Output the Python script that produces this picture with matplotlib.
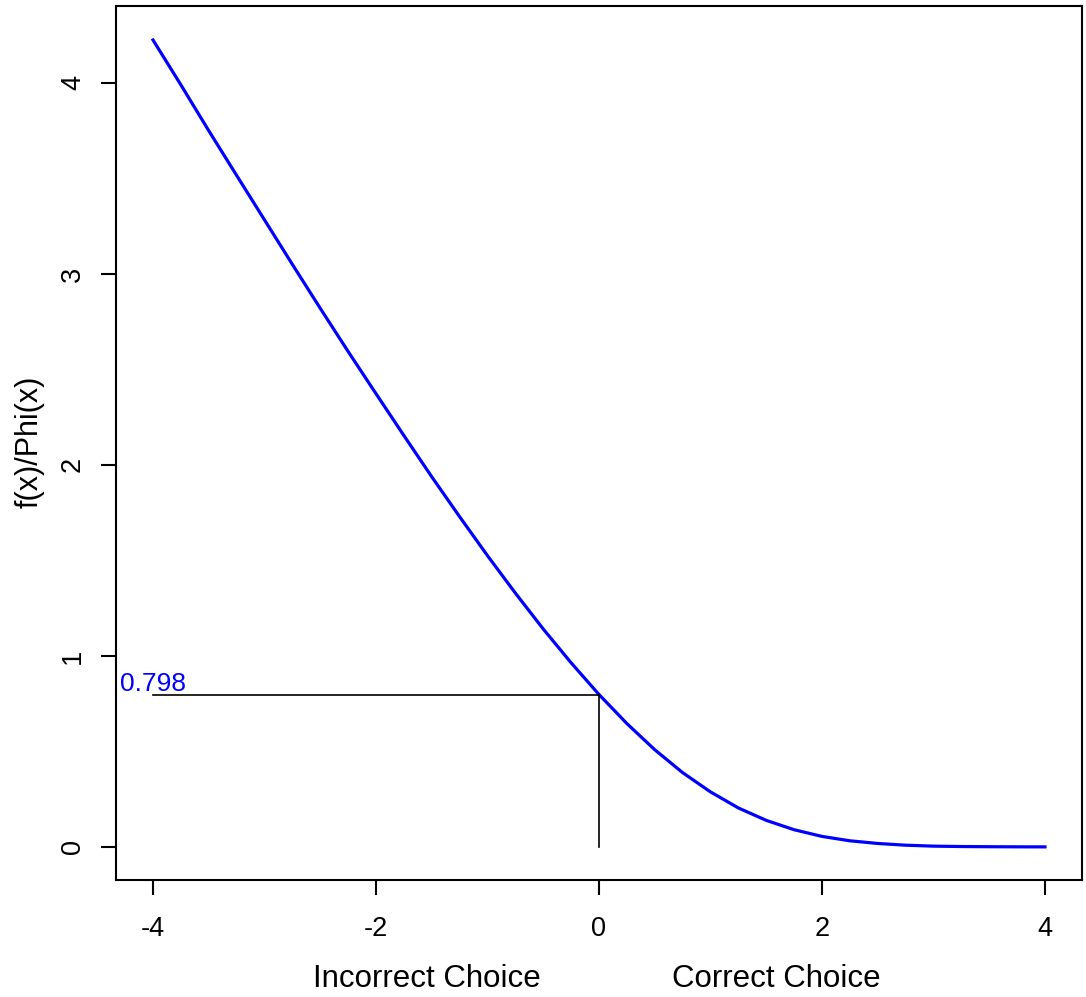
import matplotlib
matplotlib.use("Agg")
import matplotlib.pyplot as plt

plt.rcParams['font.family'] = ['Liberation Sans', 'DejaVu Sans']

x_vals = [-4.0, -3.75, -3.5, -3.25, -3.0, -2.75, -2.5, -2.25, -2.0, -1.75, -1.5,
          -1.25, -1.0, -0.75, -0.5, -0.25, 0.0, 0.25, 0.5, 0.75, 1.0, 1.25, 1.5,
          1.75, 2.0, 2.25, 2.5, 2.75, 3.0, 3.25, 3.5, 3.75, 4.0]
y_vals = [4.225, 3.99, 3.75, 3.516, 3.283, 3.05, 2.82, 2.594, 2.373, 2.154, 1.938,
          1.729, 1.525, 1.329, 1.141, 0.964, 0.798, 0.646, 0.509, 0.389, 0.288,
          0.204, 0.139, 0.090, 0.055, 0.032, 0.018, 0.009, 0.004, 0.002, 0.001,
          0.0004, 0.0001]
ref_x = 0.0
ref_y = 0.798
ref_label = "0.798"
x_ticks = [-4, -2, 0, 2, 4]
y_ticks = [0, 1, 2, 3, 4]

fig = plt.figure(figsize=(10.86, 9.97), dpi=100)
ax = fig.add_axes([0.1068, 0.1174, 0.8895, 0.8766])
ax.plot(x_vals, y_vals, color='#0000ff', lw=2.3)
ax.plot([x_vals[0], ref_x], [ref_y, ref_y], color='black', lw=1.2)
ax.plot([ref_x, ref_x], [0, ref_y], color='black', lw=1.2)
ax.text(x_vals[0], ref_y + 0.018, ref_label, color='#0000ff', fontsize=19,
        ha='center', va='baseline')

ax.set_xlim(-4.332, 4.332)
ax.set_ylim(-0.173, 4.403)
ax.set_xticks(x_ticks)
ax.set_yticks(y_ticks)
ax.set_xticklabels([str(t) for t in x_ticks])
ax.set_yticklabels([str(t) for t in y_ticks], rotation=90, va='center')
ax.tick_params(axis='both', length=11, width=1.5, labelsize=19.5)
ax.tick_params(axis='x', pad=15)
ax.tick_params(axis='y', pad=10.5)
for s in ax.spines.values():
    s.set_linewidth(1.5)

fig.text(30 / 1086, 1 - 442 / 997, "f(x)/Phi(x)", fontsize=22, rotation=90,
         ha='center', va='center')
fig.text(427 / 1086, 1 - 979 / 997, "Incorrect Choice", fontsize=22.5,
         ha='center', va='center')
fig.text(776 / 1086, 1 - 979 / 997, "Correct Choice", fontsize=22.5,
         ha='center', va='center')

fig.savefig("out.png", dpi=100)
